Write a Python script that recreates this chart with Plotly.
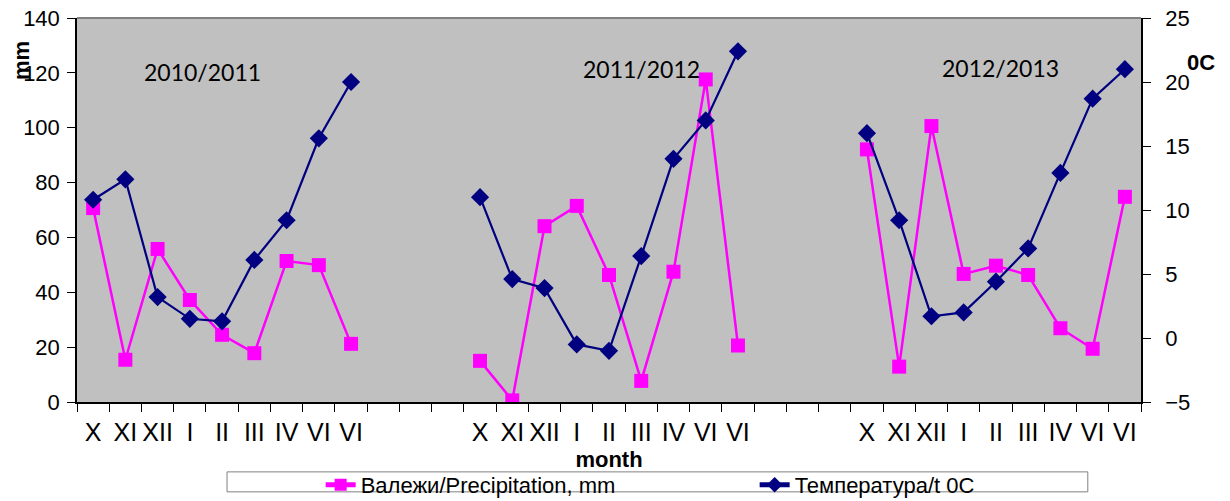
import plotly.graph_objects as go

# ---- data -------------------------------------------------------------
months = ["X", "XI", "XII", "I", "II", "III", "IV", "VI", "VI"]
seasons = ["2010/2011", "2011/2012", "2012/2013"]

precip_2010_11 = [70.7, 15.4, 55.8, 37.2, 24.5, 17.8, 51.4, 49.9, 21.2]
precip_2011_12 = [15.0, 0.6, 64.1, 71.5, 46.3, 7.7, 47.5, 117.6, 20.6]
precip_2012_13 = [92.1, 12.9, 100.6, 46.7, 49.7, 46.3, 26.9, 19.4, 74.8]

temp_2010_11 = [10.8, 12.4, 3.2, 1.5, 1.3, 6.1, 9.2, 15.6, 20.0]
temp_2011_12 = [11.0, 4.6, 3.9, -0.5, -1.0, 6.4, 14.0, 17.0, 22.4]
temp_2012_13 = [16.0, 9.2, 1.7, 2.0, 4.4, 7.0, 12.9, 18.7, 21.0]

gap = 3  # empty categories between seasons

# ---- build category sequence ------------------------------------------
def join(groups):
    out = []
    for i, g in enumerate(groups):
        out += list(g)
        if i < len(groups) - 1:
            out += [None] * gap
    return out

x_labels = join([months] * 3)
x_labels = [lab if lab is not None else "" for lab in x_labels]
x_pos = list(range(len(x_labels)))
precip = join([precip_2010_11, precip_2011_12, precip_2012_13])
temp = join([temp_2010_11, temp_2011_12, temp_2012_13])

ARIAL = "Liberation Sans, Arial, sans-serif"
TICKFONT = dict(family=ARIAL, size=22, color="black")

fig = go.Figure()
fig.add_trace(go.Scatter(
    x=x_pos, y=precip, mode="lines+markers", name="Валежи/Precipitation, mm",
    line=dict(color="#FF00FF", width=2.5),
    marker=dict(symbol="square", size=14, color="#FF00FF"),
    connectgaps=False, yaxis="y",
))
fig.add_trace(go.Scatter(
    x=x_pos, y=temp, mode="lines+markers", name="Температура/t 0C",
    line=dict(color="#000080", width=2.2),
    marker=dict(symbol="diamond", size=14, color="#000080"),
    connectgaps=False, yaxis="y2",
))

season_pos = [(0.1175, 0.859), (0.531, 0.867), (0.8675, 0.870)]
annotations = []
for s, (px, py) in zip(seasons, season_pos):
    annotations.append(dict(
        text=s, x=px, y=py, xref="paper", yref="paper", showarrow=False,
        xanchor="center", yanchor="middle",
        font=dict(family="Lato, Open Sans, sans-serif", size=23, color="black"),
    ))
annotations.append(dict(
    text="<b>mm</b>", x=-0.0526, y=0.888, xref="paper", yref="paper", showarrow=False,
    textangle=-90, xanchor="center", yanchor="middle",
    font=dict(family=ARIAL, size=22, color="black"),
))
annotations.append(dict(
    text="<b>0C</b>", x=1.056, y=0.883, xref="paper", yref="paper", showarrow=False,
    xanchor="center", yanchor="middle",
    font=dict(family=ARIAL, size=22, color="black"),
))

fig.update_layout(
    width=1230, height=501,
    margin=dict(l=77, r=89, t=18, b=99, autoexpand=False),
    plot_bgcolor="#C0C0C0", paper_bgcolor="white",
    showlegend=True,
    legend=dict(
        orientation="h", x=0.229, xanchor="left", y=-0.216, yanchor="middle",
        font=dict(family=ARIAL, size=22, color="black"),
        bgcolor="rgba(0,0,0,0)", borderwidth=0, entrywidth=389,
        tracegroupgap=0, itemsizing="constant",
    ),
    xaxis=dict(
        range=[-0.5, len(x_labels) - 0.5], tickmode="array", tickvals=x_pos, ticktext=x_labels,
        ticks="", showline=True, linecolor="black", linewidth=1.5, showgrid=False, zeroline=False,
        tickfont=dict(family=ARIAL, size=25, color="black"),
        ticklabelstandoff=7, automargin=False,
        minor=dict(tickmode="linear", tick0=-0.5, dtick=1, ticks="outside", ticklen=8,
                   tickcolor="black", tickwidth=1, showgrid=False),
        title=dict(text="<b>month</b>", standoff=7,
                   font=dict(family=ARIAL, size=22, color="black")),
    ),
    yaxis=dict(
        range=[0, 140], dtick=20, ticks="outside", ticklen=8, tickcolor="black",
        showline=True, linecolor="black", linewidth=1.5, showgrid=False, zeroline=False,
        tickfont=TICKFONT, automargin=False, ticklabelstandoff=3, ticklabeloverflow="allow",
    ),
    yaxis2=dict(
        range=[-5, 25], dtick=5, ticks="outside", ticklen=8, tickcolor="black",
        overlaying="y", side="right",
        showline=True, linecolor="black", linewidth=1.5, showgrid=False, zeroline=False,
        tickfont=TICKFONT, automargin=False, ticklabelstandoff=10, ticklabeloverflow="allow",
    ),
    annotations=annotations,
    shapes=[
        dict(type="line", xref="paper", yref="paper", x0=0, x1=1, y0=1, y1=1,
             line=dict(color="#808080", width=2)),
        dict(type="rect", xref="paper", yref="paper", x0=0.141, x1=0.950, y0=-0.234, y1=-0.182,
             line=dict(color="#808080", width=1), fillcolor="white", layer="below"),
    ],
)

# remove the default 8px page margin so the figure sits at the window's corner
fig.write_html("out.html", config={"displayModeBar": False},
               post_script="document.body.style.margin='0px';")
